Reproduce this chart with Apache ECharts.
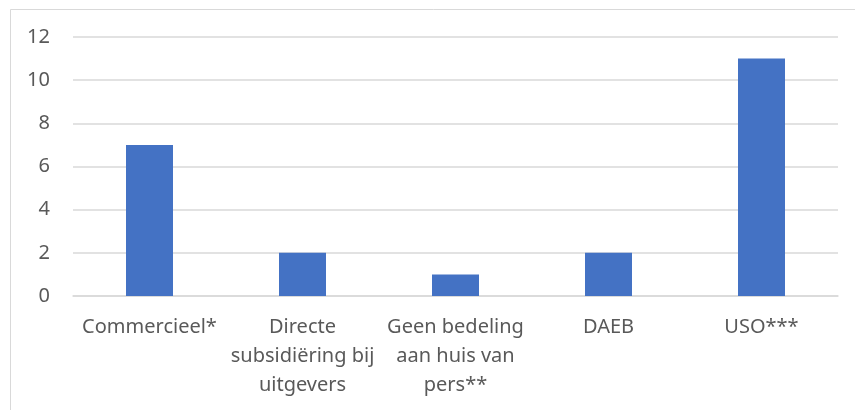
<!DOCTYPE html>
<html><head><meta charset="utf-8">
<script src="https://cdn.jsdelivr.net/npm/echarts@6/dist/echarts.min.js"></script>
<style>html,body{margin:0;padding:0;background:#fff}#c{width:855px;height:410px}</style>
</head><body><div id="c"></div>
<script>
const categories = ["Commercieel*", "Directe\nsubsidiëring bij\nuitgevers", "Geen bedeling\naan huis van\npers**", "DAEB", "USO***"];
const values = [7, 2, 1, 2, 11];
const yTicks = [0, 2, 4, 6, 8, 10, 12];

const chart = echarts.init(document.getElementById('c'));
const font = 'Noto Sans';
chart.setOption({
  animation: false,
  backgroundColor: '#fff',
  graphic: [{
    type: 'rect', left: 8, top: 7, silent: true,
    shape: { width: 900, height: 500 },
    style: { fill: 'none', stroke: '#d9d9d9', lineWidth: 1 }
  }],
  grid: { left: 73, right: 17, top: 37, bottom: 114 },
  xAxis: {
    type: 'category', data: categories,
    axisLine: { lineStyle: { color: '#d9d9d9', width: 1.5 } },
    axisTick: { show: false },
    axisLabel: { color: '#595959', fontFamily: font, fontSize: 20, lineHeight: 29, margin: 17, interval: 0 }
  },
  yAxis: {
    type: 'value', min: yTicks[0], max: yTicks[yTicks.length - 1], interval: 2,
    axisLine: { show: false }, axisTick: { show: false },
    splitLine: { lineStyle: { color: '#d9d9d9', width: 1.5 } },
    axisLabel: { color: '#595959', fontFamily: font, fontSize: 20, margin: 23 }
  },
  series: [{
    type: 'bar', data: values, barWidth: 47,
    itemStyle: { color: '#4472C4' }
  }]
});
</script></body></html>
